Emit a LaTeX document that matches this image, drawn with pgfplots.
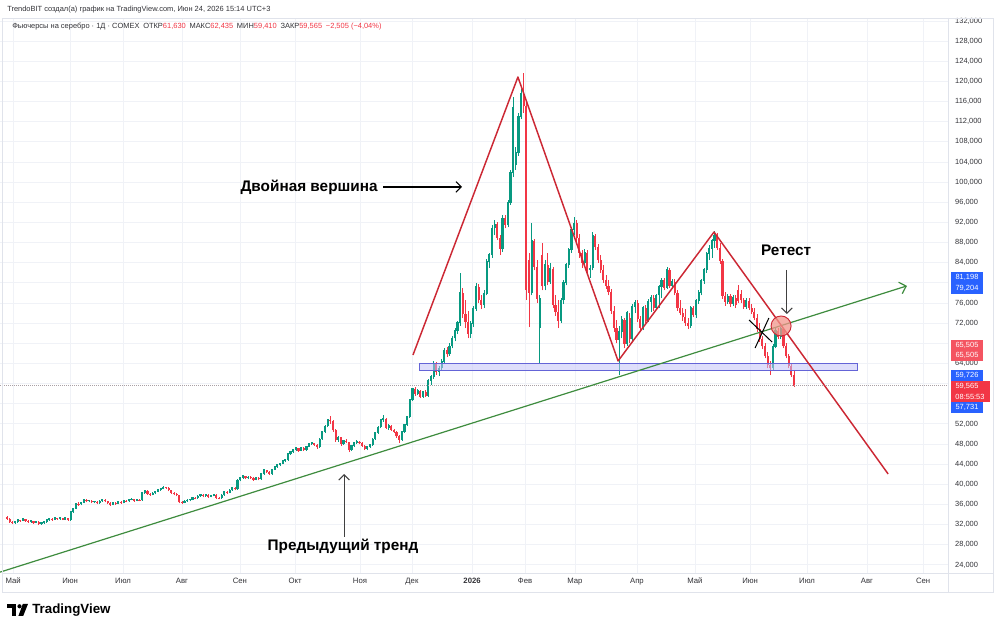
\documentclass[border=0pt]{standalone}
\usepackage{fontspec}
\setmainfont{Liberation Sans}
\usepackage{pgfplots}
\pgfplotsset{compat=1.18}
\usepackage{pgfplotstable}
\usetikzlibrary{arrows.meta}

\definecolor{upc}{RGB}{8,153,129}
\definecolor{dnc}{RGB}{242,54,69}
\definecolor{trendred}{RGB}{204,40,52}
\definecolor{trendgreen}{RGB}{62,140,62}
\definecolor{tvblue}{RGB}{41,98,255}
\definecolor{gridc}{RGB}{240,242,247}
\definecolor{framec}{RGB}{224,227,235}
\definecolor{labc}{RGB}{50,50,55}
\definecolor{bandfill}{RGB}{196,196,248}
\definecolor{bandedge}{RGB}{100,100,215}
\definecolor{circfill}{RGB}{242,150,140}

\pgfplotstableread{
i o h l c
0 33.5 33.7 33.0 33.2
1 33.2 33.4 32.4 32.6
2 32.6 32.8 32.1 32.3
3 32.3 32.7 32.1 32.5
4 32.5 33.1 32.4 32.9
5 32.9 33.0 32.6 32.8
6 32.8 33.3 32.7 33.1
7 33.1 33.2 32.6 32.7
8 32.7 32.9 32.3 32.5
9 32.5 32.9 32.4 32.7
10 32.7 32.8 32.2 32.4
11 32.4 32.8 32.3 32.6
12 32.6 32.7 31.9 32.1
13 32.1 32.5 32.0 32.3
14 32.3 32.7 32.2 32.5
15 32.5 33.1 32.4 32.9
16 32.9 33.3 32.8 33.1
17 33.1 33.3 32.8 33.0
18 33.0 33.5 32.9 33.3
19 33.3 33.4 33.0 33.2
20 33.2 33.5 33.0 33.3
21 33.3 33.4 32.9 33.0
22 33.0 33.4 32.9 33.3
23 33.3 33.4 32.8 32.9
24 32.9 34.7 32.8 34.5
25 34.5 35.3 34.3 35.1
26 35.1 36.3 35.0 36.1
27 36.1 36.4 35.7 36.0
28 36.0 36.5 35.8 36.3
29 36.3 37.1 36.2 36.9
30 36.9 37.0 36.4 36.6
31 36.6 36.9 36.4 36.7
32 36.7 36.8 36.2 36.4
33 36.4 36.7 36.2 36.5
34 36.5 36.6 36.0 36.2
35 36.2 36.8 36.1 36.6
36 36.6 37.1 36.5 36.9
37 36.9 37.0 36.4 36.6
38 36.6 36.7 36.0 36.2
39 36.2 36.4 35.7 35.9
40 35.9 36.5 35.8 36.3
41 36.3 36.4 35.9 36.1
42 36.1 36.7 36.0 36.5
43 36.5 36.6 36.1 36.3
44 36.3 36.9 36.2 36.7
45 36.7 36.8 36.4 36.6
46 36.6 37.1 36.5 36.9
47 36.9 37.2 36.8 37.0
48 37.0 37.1 36.5 36.7
49 36.7 37.1 36.6 36.9
50 36.9 37.0 36.6 36.8
51 36.8 38.5 36.7 38.3
52 38.3 38.9 38.1 38.7
53 38.7 38.8 37.9 38.1
54 38.1 38.3 37.7 37.9
55 37.9 38.4 37.8 38.2
56 38.2 38.7 38.0 38.5
57 38.5 39.1 38.4 38.9
58 38.9 39.3 38.7 39.1
59 39.1 39.6 39.0 39.4
60 39.4 39.5 39.1 39.3
61 39.3 39.4 38.6 38.8
62 38.8 38.9 38.1 38.3
63 38.3 38.5 37.8 38.0
64 38.0 38.2 37.6 37.8
65 37.8 37.9 36.2 36.4
66 36.4 36.6 36.0 36.3
67 36.3 36.8 36.2 36.6
68 36.6 37.0 36.5 36.8
69 36.8 37.1 36.6 36.9
70 36.9 37.5 36.8 37.3
71 37.3 37.4 37.0 37.2
72 37.2 37.8 37.1 37.6
73 37.6 38.1 37.5 37.9
74 37.9 38.0 37.4 37.6
75 37.6 38.1 37.5 37.9
76 37.9 38.0 37.3 37.5
77 37.5 37.9 37.4 37.7
78 37.7 38.1 37.6 37.9
79 37.9 38.0 37.1 37.3
80 37.3 37.5 37.0 37.2
81 37.2 38.0 37.1 37.8
82 37.8 38.7 37.7 38.5
83 38.5 38.6 38.1 38.3
84 38.3 39.0 38.2 38.8
85 38.8 39.5 38.7 39.3
86 39.3 39.4 38.8 39.0
87 39.0 41.0 38.9 40.8
88 40.8 41.5 40.6 41.3
89 41.3 41.8 41.1 41.6
90 41.6 41.7 41.0 41.2
91 41.2 41.6 41.0 41.4
92 41.4 41.6 41.1 41.3
93 41.3 41.4 40.7 40.9
94 40.9 41.5 40.8 41.3
95 41.3 41.4 40.8 41.0
96 41.0 42.2 40.9 42.0
97 42.0 43.0 41.9 42.8
98 42.8 42.9 42.3 42.5
99 42.5 42.7 41.8 42.0
100 42.0 43.1 41.9 42.9
101 42.9 43.6 42.8 43.4
102 43.4 44.0 43.3 43.8
103 43.8 44.3 43.6 44.1
104 44.1 44.8 44.0 44.6
105 44.6 45.0 44.4 44.8
106 44.8 46.2 44.7 46.0
107 46.0 46.6 45.8 46.4
108 46.4 47.0 46.2 46.8
109 46.8 47.5 46.6 47.2
110 47.2 47.3 46.5 46.7
111 46.7 47.4 46.6 47.2
112 47.2 47.4 46.6 46.8
113 46.8 47.7 46.7 47.5
114 47.5 48.2 47.4 48.0
115 48.0 48.5 47.8 48.2
116 48.2 48.3 47.7 47.9
117 47.9 48.0 47.1 47.4
118 47.4 49.1 47.3 48.9
119 48.9 50.6 48.8 50.4
120 50.4 51.7 50.2 51.5
121 51.5 53.0 51.3 52.8
122 52.8 53.5 52.0 52.5
123 52.5 52.7 50.4 50.7
124 50.7 50.9 48.5 48.8
125 48.8 49.6 48.4 49.3
126 49.3 49.4 47.7 48.0
127 48.0 48.8 47.8 48.6
128 48.6 48.9 48.2 48.4
129 48.4 48.5 46.4 46.8
130 46.8 47.8 46.6 47.6
131 47.6 48.4 47.4 48.2
132 48.2 48.8 48.0 48.5
133 48.5 48.6 48.0 48.2
134 48.2 48.4 47.5 47.7
135 47.7 47.9 46.8 47.0
136 47.0 47.6 46.8 47.4
137 47.4 48.0 47.2 47.8
138 47.8 49.1 47.7 48.9
139 48.9 50.4 48.8 50.2
140 50.2 51.5 50.0 51.3
141 51.3 53.0 51.1 52.8
142 52.8 53.7 52.4 53.0
143 53.0 53.2 51.0 51.2
144 51.2 51.9 50.8 51.6
145 51.6 51.8 50.6 50.8
146 50.8 51.0 50.2 50.4
147 50.4 50.6 49.2 49.5
148 49.5 49.8 48.2 48.8
149 48.8 50.6 48.6 50.4
150 50.4 52.0 50.2 51.8
151 51.8 53.6 51.6 53.4
152 53.4 57.0 53.2 56.7
153 56.7 59.2 56.5 58.9
154 58.9 59.3 57.6 57.9
155 57.9 58.9 57.7 58.6
156 58.6 58.8 57.1 57.4
157 57.4 58.6 57.2 58.4
158 58.4 58.7 57.3 57.6
159 57.6 60.9 57.3 60.6
160 60.6 61.8 59.8 61.4
161 61.4 64.5 61.0 64.0
162 64.0 64.3 61.8 62.4
163 62.4 63.5 61.5 63.0
164 63.0 64.8 62.5 64.3
165 64.3 67.0 64.0 66.6
166 66.6 67.2 65.2 65.8
167 65.8 68.0 65.5 67.4
168 67.4 69.5 67.0 69.0
169 69.0 71.0 68.4 70.5
170 70.5 72.5 69.8 72.0
171 72.0 82.0 71.5 78.0
172 78.0 79.0 73.0 73.8
173 73.8 76.5 71.0 72.2
174 72.2 74.5 69.0 69.8
175 69.8 72.5 69.0 71.8
176 71.8 75.5 71.2 74.9
177 74.9 80.0 74.5 79.2
178 79.2 79.8 76.0 76.6
179 76.6 77.5 74.8 75.6
180 75.6 78.5 75.0 77.8
181 77.8 84.8 77.5 84.2
182 84.2 86.0 83.0 85.5
183 85.5 91.5 85.0 90.8
184 90.8 92.5 89.5 91.6
185 91.6 92.0 88.5 89.0
186 89.0 89.5 85.5 86.8
187 86.8 93.5 86.2 92.8
188 92.8 93.4 90.8 91.5
189 91.5 96.5 91.0 95.9
190 95.9 102.5 95.5 101.8
191 101.8 117.0 101.0 114.8
192 103.5 107.0 102.5 105.8
193 105.8 113.8 105.2 113.0
194 113.0 118.5 112.5 117.5
195 117.5 121.7 113.8 115.2
196 115.2 116.0 76.6 78.6
197 84.5 86.0 71.2 78.0
198 78.0 91.9 77.5 88.3
199 88.3 88.8 82.5 83.2
200 83.2 84.5 76.0 76.8
201 71.0 77.5 64.1 76.8
202 85.5 88.0 78.5 79.3
203 79.3 84.5 78.5 83.5
204 83.5 86.0 79.5 80.2
205 80.2 84.0 79.8 82.8
206 82.8 83.2 75.0 75.6
207 75.6 77.5 73.5 74.3
208 74.3 76.5 71.0 72.4
209 72.4 77.0 72.0 76.5
210 76.5 80.5 75.8 80.0
211 80.0 84.0 79.5 83.5
212 83.5 87.0 83.0 86.5
213 86.5 91.0 86.0 90.5
214 90.5 93.0 89.5 91.8
215 91.8 92.5 88.0 89.0
216 89.0 89.8 85.0 85.9
217 85.9 86.5 83.0 84.0
218 84.0 86.8 83.2 85.9
219 85.9 86.5 81.8 82.6
220 82.6 83.5 81.0 82.9
221 82.9 90.2 82.5 89.3
222 89.3 89.8 86.5 87.1
223 87.1 87.8 84.0 84.5
224 84.5 85.5 82.0 82.6
225 82.6 83.5 80.0 80.6
226 80.6 81.5 78.8 79.3
227 79.3 80.5 77.5 78.2
228 78.2 78.8 73.8 74.5
229 74.5 75.5 70.2 71.0
230 71.0 72.6 68.0 68.7
231 68.7 71.5 61.7 70.2
232 70.2 73.5 69.0 72.6
233 72.6 73.0 67.0 67.8
234 67.8 74.5 67.5 74.0
235 73.0 74.0 68.0 68.8
236 68.8 75.8 68.5 75.2
237 75.2 76.6 74.0 76.0
238 76.0 76.5 72.2 72.8
239 72.8 73.5 70.4 71.0
240 71.0 75.5 70.6 75.0
241 75.0 75.6 72.0 72.5
242 72.5 76.8 72.2 76.3
243 76.3 77.5 74.3 77.0
244 77.0 77.5 74.5 75.0
245 75.0 77.8 74.6 77.5
246 77.5 79.5 75.0 79.2
247 79.2 81.0 77.0 80.5
248 80.5 81.0 78.5 79.0
249 79.0 83.2 78.8 82.6
250 82.6 83.0 79.0 79.4
251 79.4 80.8 78.8 80.2
252 80.2 80.8 77.5 78.0
253 78.0 78.5 74.5 75.0
254 75.0 76.5 73.6 74.0
255 74.0 75.0 72.5 73.2
256 73.2 74.8 71.5 72.0
257 72.0 73.0 70.8 71.4
258 71.4 75.5 71.0 75.0
259 75.0 75.4 73.2 73.6
260 73.6 76.8 73.0 76.4
261 76.4 78.5 75.8 78.0
262 78.0 80.8 77.5 80.4
263 80.4 83.0 79.8 82.6
264 82.6 86.2 82.0 85.8
265 85.8 87.5 84.5 86.8
266 86.8 88.8 85.0 88.3
267 88.3 90.3 87.0 89.4
268 89.4 89.9 86.5 87.0
269 87.0 88.0 83.8 84.3
270 84.3 84.8 76.8 77.4
271 77.4 78.2 75.5 76.2
272 76.2 77.8 75.8 77.3
273 77.3 77.8 75.2 75.8
274 75.8 77.6 75.4 77.0
275 77.0 77.6 75.0 75.6
276 78.6 79.5 76.0 76.4
277 77.8 78.5 76.0 76.5
278 76.5 77.0 74.8 75.2
279 75.2 77.0 74.8 76.4
280 76.4 76.9 74.6 75.0
281 75.0 75.8 73.8 74.2
282 74.2 75.0 72.6 73.0
283 73.0 73.8 70.2 70.8
284 70.8 72.0 68.3 68.8
285 68.8 69.5 66.8 67.4
286 67.4 68.0 65.0 65.5
287 65.5 66.3 63.0 63.6
288 63.6 64.5 61.7 63.0
289 63.0 67.8 62.6 67.3
290 67.3 71.0 67.0 70.4
291 70.4 71.0 68.8 69.3
292 69.3 71.2 68.9 70.8
293 70.8 71.0 67.0 67.5
294 67.5 68.0 65.0 65.4
295 65.4 65.8 63.0 63.4
296 63.4 63.8 61.4 61.63
297 61.63 62.435 59.41 59.565
}\candles

\pgfplotsset{
  candle/.style n args={2}{forget plot, draw=none, no markers,
    error bars/.cd, y dir=plus, y explicit,
    error mark options={opacity=0, mark size=0pt},
    error bar style={draw=#1, line width=#2}},
}

\begin{document}
\begin{tikzpicture}[x=0.75pt,y=0.75pt]
\path[use as bounding box, fill=white] (0,0) rectangle (1000,630);

\begin{axis}[
  at={(0pt,42.75pt)}, anchor=south west,
  scale only axis, width=711pt, height=415.5pt,
  xmin=-2.64, xmax=355.09, ymin=22.39, ymax=132.40,
  axis line style={draw=none},
  major tick length=0pt,
  xtick={2.3,23.8,43.8,66.0,87.9,108.7,133.2,152.8,175.5,195.5,214.3,237.7,259.6,280.4,301.9,324.5,345.7},
  xticklabels={Май,Июн,Июл,Авг,Сен,Окт,Ноя,Дек,\textbf{2026},Фев,Мар,Апр,Май,Июн,Июл,Авг,Сен},
  ytick={24,28,...,132},
  yticklabels={{24,000},{28,000},{32,000},{36,000},{40,000},{44,000},{48,000},{52,000},{},{},{64,000},{},{72,000},{76,000},{},{84,000},{88,000},{92,000},{96,000},{100,000},{104,000},{108,000},{112,000},{116,000},{120,000},{124,000},{128,000},{132,000}},
  yticklabel pos=right,
  grid=major,
  major grid style={draw=gridc, line width=0.6pt},
  xticklabel style={font=\fontsize{5.8}{6}\selectfont, text=labc, inner sep=0pt, anchor=north, yshift=-3.6pt},
  yticklabel style={font=\fontsize{5.6}{6}\selectfont, text=labc, inner sep=0pt, anchor=west, xshift=5.2pt},
]
% wicks
\addplot[restrict expr to domain={\thisrow{c}-\thisrow{o}}{0:1000}, candle={upc}{0.5pt}]
  table[x=i, y=l, y error plus expr={\thisrow{h}-\thisrow{l}}] {\candles};
\addplot[restrict expr to domain={\thisrow{c}-\thisrow{o}}{-1000:-0.00001}, candle={dnc}{0.5pt}]
  table[x=i, y=l, y error plus expr={\thisrow{h}-\thisrow{l}}] {\candles};
% bodies
\addplot[restrict expr to domain={\thisrow{c}-\thisrow{o}}{0:1000}, candle={upc}{1.6pt}]
  table[x=i, y=o, y error plus expr={\thisrow{c}-\thisrow{o}+0.15}] {\candles};
\addplot[restrict expr to domain={\thisrow{c}-\thisrow{o}}{-1000:-0.00001}, candle={dnc}{1.6pt}]
  table[x=i, y=c, y error plus expr={\thisrow{o}-\thisrow{c}}] {\candles};

% current price line
\draw[densely dotted, color={rgb,255:red,170;green,160;blue,165}, line width=0.5pt] (-2.64,59.565) -- (355.09,59.565);
% support band
\draw[bandedge, fill=bandfill, fill opacity=0.55, line width=0.7pt] (155.8,62.56) rectangle (321.1,64.03);
% previous trend
\draw[trendgreen, line width=0.9pt, -{Straight Barb[length=4.5pt,width=9pt,line width=0.9pt]}] (-2.64,22.56) -- (339.6,79.4);
% double top
\draw[trendred, line width=1.1pt, line join=round] (153.2,65.68) -- (192.8,120.88) -- (230.6,64.49) -- (266.8,90.10) -- (332.5,42.05);
% X mark
\draw[black, line width=0.75pt] (280.0,72.63) -- (288.7,68.26);
\draw[black, line width=0.75pt] (287.5,73.03) -- (282.3,67.07);
% retest circle
\draw[draw=trendred, fill=circfill, fill opacity=0.75, line width=0.7pt] (292.1,71.44) circle[radius=7.5pt];
% annotations
\draw[black, line width=0.8pt, -{Straight Barb[length=4pt,width=8pt,line width=0.8pt]}] (141.9,99.04) -- (171.7,99.04);
\node[font=\fontsize{11.5}{13}\selectfont\bfseries] at (114.0,99.04) {Двойная вершина};
\node[font=\fontsize{11.5}{13}\selectfont\bfseries] at (294.0,86.53) {Ретест};
\draw[black!75, line width=0.8pt, -{Straight Barb[length=4pt,width=8pt,line width=0.8pt]}] (294.3,82.56) -- (294.3,73.82);
\node[font=\fontsize{11.5}{13}\selectfont\bfseries] at (126.8,27.75) {Предыдущий тренд};
\draw[black!75, line width=0.8pt, -{Straight Barb[length=4pt,width=8pt,line width=0.8pt]}] (127.2,29.54) -- (127.2,42.05);
\end{axis}

\begin{scope}[yshift=472.5pt, y=-0.75pt]
% frame
\draw[framec, line width=0.6pt] (2,18) rectangle (993,592);
\draw[framec, line width=0.6pt] (2,573) -- (993,573);
\draw[framec, line width=0.4pt] (948,18) -- (948,592);

% header
\node[anchor=west, inner sep=0pt, font=\fontsize{5.6}{7}\selectfont, text=labc] at (7,10) {TrendoBIT создал(а) график на TradingView.com, Июн 24, 2026 15:14 UTC+3};
\node[anchor=west, inner sep=0pt, font=\fontsize{5.6}{7}\selectfont, text=labc] at (12,27) {Фьючерсы на серебро · 1Д · COMEX\enspace ОТКР\textcolor{dnc}{61,630}\enspace МАКС\textcolor{dnc}{62,435}\enspace МИН\textcolor{dnc}{59,410}\enspace ЗАКР\textcolor{dnc}{59,565}\enspace \textcolor{dnc}{−2,505 (−4,04\%)}};

% price scale labels
\fill[tvblue] (951,272) rectangle (983,294);
\node[text=white, inner sep=0pt, font=\fontsize{5.6}{6}\selectfont] at (967,277.5) {81,198};
\node[text=white, inner sep=0pt, font=\fontsize{5.6}{6}\selectfont] at (967,288.5) {79,204};
\fill[dnc!85!white] (951,340) rectangle (983,361);
\node[text=white, inner sep=0pt, font=\fontsize{5.6}{6}\selectfont] at (967,345.3) {65,505};
\node[text=white, inner sep=0pt, font=\fontsize{5.6}{6}\selectfont] at (967,355.8) {65,505};
\fill[tvblue] (951,370.5) rectangle (983,381);
\node[text=white, inner sep=0pt, font=\fontsize{5.6}{6}\selectfont] at (967,375.8) {59,726};
\fill[dnc] (951,381) rectangle (990,402);
\node[text=white, inner sep=0pt, font=\fontsize{5.6}{6}\selectfont] at (967,386.5) {59,565};
\node[text=white, inner sep=0pt, font=\fontsize{5.6}{6}\selectfont] at (970,396.5) {08:55:53};
\fill[tvblue] (951,402) rectangle (983,413);
\node[text=white, inner sep=0pt, font=\fontsize{5.6}{6}\selectfont] at (967,407.5) {57,731};

% logo
\fill[black] (7,604) rectangle (16,608.2);
\fill[black] (11.5,604) rectangle (16,616);
\fill[black] (19.5,606.3) circle[radius=2.1];
\fill[black] (22.8,604) -- (28,604) -- (23.2,616) -- (18.4,616) -- cycle;
\node[anchor=west, inner sep=0pt, font=\fontsize{10}{11}\selectfont\bfseries] at (32,610) {TradingView};
\end{scope}
\end{tikzpicture}
\end{document}
